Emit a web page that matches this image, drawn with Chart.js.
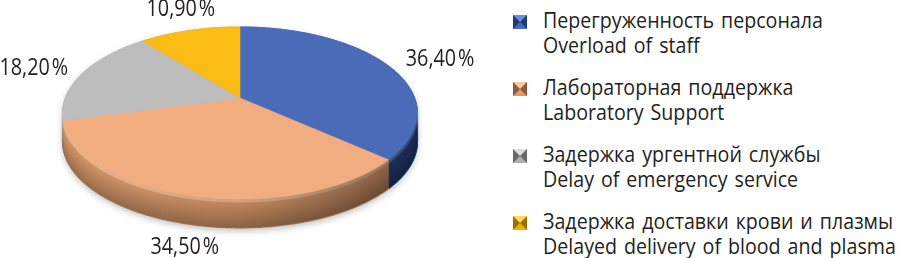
<!DOCTYPE html>
<html><head><meta charset="utf-8">
<script src="https://cdn.jsdelivr.net/npm/chart.js@4"></script>
<style>
html,body{margin:0;padding:0;background:#fff;width:900px;height:258px;overflow:hidden;}
#wrap{position:relative;width:900px;height:258px;}
#pie{position:absolute;left:0;top:0;}
#legend{position:absolute;left:513px;top:8px;font-family:"Open Sans",sans-serif;font-size:21px;line-height:25px;color:#231f20;}
.item{position:relative;height:67px;padding-left:30px;white-space:nowrap;}
.txt{display:inline-block;transform:scaleX(0.935);transform-origin:0 0;word-spacing:2px;}
.ico{position:absolute;left:0;top:7px;width:0;height:0;border-style:solid;border-width:7.5px;}
</style></head>
<body><div id="wrap"><canvas id="pie" width="480" height="258"></canvas><div id="legend"></div></div>
<script>
const categoriesRu = ['Перегруженность персонала','Лабораторная поддержка','Задержка ургентной службы','Задержка доставки крови и плазмы'];
const categoriesEn = ['Overload of staff','Laboratory Support','Delay of emergency service','Delayed delivery of blood and plasma'];
const values = [36.4, 34.5, 18.2, 10.9];
const topColors  = ['#4a6bb8','#f1ad80','#bdbdbd','#fbbd14'];
const wallColors = ['#2c4a90','#dc9c6c','#a4a4a4','#d8a010'];
const iconColors = [['#6d8fd6','#1f3a78','#4a6bb8'],['#f7c9a6','#8a5a3a','#e09a6a'],['#dcdcdc','#6a6a6a','#b0b0b0'],['#ffd85a','#9a7000','#f0b000']];

// legend (HTML text)
const lg = document.getElementById('legend');
categoriesRu.forEach((c,i)=>{
  const d = document.createElement('div'); d.className='item';
  const ic = document.createElement('span'); ic.className='ico';
  const [lt,dk,md] = iconColors[i];
  ic.style.borderColor = lt+' '+dk+' '+md+' '+dk;
  d.appendChild(ic);
  const t = document.createElement('span'); t.className='txt';
  t.appendChild(document.createTextNode(c));
  t.appendChild(document.createElement('br'));
  t.appendChild(document.createTextNode(categoriesEn[i]));
  d.appendChild(t);
  lg.appendChild(d);
});

const K = 0.1744, AX = 1.779, BY = 0.851, DEPTH = 0.29;
function proj(el, phi, rho, dz){
  const u = rho*Math.cos(phi), w = rho*Math.sin(phi);
  const den = 1 - K*w, r = el.outerRadius;
  return [el.x + AX*r*u/den, el.y + BY*r*w/den + dz];
}
function arcPts(el, s, e, dz){
  const n = Math.max(4, Math.ceil((e-s)/0.01)); const pts=[];
  for(let j=0;j<=n;j++){ pts.push(proj(el, s+(e-s)*j/n, 1, dz)); }
  return pts;
}
function shade(hex, f){
  const n=parseInt(hex.slice(1),16); let r=n>>16,g=(n>>8)&255,b=n&255;
  if(f>=0){r+= (255-r)*f; g+=(255-g)*f; b+=(255-b)*f;} else {r*=1+f; g*=1+f; b*=1+f;}
  return 'rgb('+Math.round(r)+','+Math.round(g)+','+Math.round(b)+')';
}
function fmt(v){ return v.toFixed(2).replace('.',',')+'\u200A%'; }

const pie3d = {
  id:'pie3d',
  beforeDatasetsDraw(chart){
    const ctx = chart.ctx; const arcs = chart.getDatasetMeta(0).data;
    const el0 = arcs[0]; const D = DEPTH*el0.outerRadius; const a0 = Math.asin(K);
    const sil = () => {
      ctx.beginPath();
      arcPts(el0, a0, Math.PI-a0, D).forEach((p,j)=> j?ctx.lineTo(p[0],p[1]):ctx.moveTo(p[0],p[1]));
      arcPts(el0, Math.PI-a0, 2*Math.PI+a0, 0).forEach(p=>ctx.lineTo(p[0],p[1]));
      ctx.closePath();
    };
    ctx.save();
    ctx.shadowColor='rgba(0,0,0,0.28)'; ctx.shadowBlur=7; ctx.shadowOffsetY=3;
    sil(); ctx.fillStyle='#999'; ctx.fill();
    ctx.restore();
    // walls as strips
    ctx.save();
    for(let t=D; t>=0; t-=1){
      arcs.forEach((el,i)=>{
        const f = t<2.5 ? 0.25 : -0.3*(t/D);
        ctx.strokeStyle = shade(wallColors[i], f); ctx.lineWidth=2;
        ctx.beginPath();
        arcPts(el, el.startAngle, el.endAngle, t).forEach((p,j)=> j?ctx.lineTo(p[0],p[1]):ctx.moveTo(p[0],p[1]));
        ctx.stroke();
      });
    }
    sil(); ctx.clip();
    const L = proj(el0, Math.PI, 1, 0)[0], R = proj(el0, 0, 1, 0)[0];
    const g = ctx.createLinearGradient(L,0,R,0);
    g.addColorStop(0,'rgba(0,0,0,0)'); g.addColorStop(0.5,'rgba(0,0,0,0.1)'); g.addColorStop(1,'rgba(0,0,0,0.38)');
    ctx.fillStyle=g; ctx.fillRect(0,0,chart.width,chart.height);
    ctx.restore();
    // top faces
    arcs.forEach((el,i)=>{
      ctx.beginPath();
      const c = proj(el, 0, 0, 0); ctx.moveTo(c[0],c[1]);
      arcPts(el, el.startAngle, el.endAngle, 0).forEach(p=>ctx.lineTo(p[0],p[1]));
      ctx.closePath();
      ctx.fillStyle = topColors[i]; ctx.fill();
      ctx.strokeStyle = topColors[i]; ctx.lineWidth=0.6; ctx.stroke();
    });
    // labels
    ctx.save();
    ctx.font='23px "Open Sans", sans-serif'; ctx.fillStyle='#231f20'; ctx.textBaseline='alphabetic';
    arcs.forEach((el,i)=>{
      const m = (el.startAngle+el.endAngle)/2, u=Math.cos(m), w=Math.sin(m);
      const p = proj(el, m, 1.05, w>0?D:0);
      let x, y, align;
      if(u>0.5){ align='left'; x=p[0]+u*12; }
      else if(u<-0.5){ align='right'; x=p[0]+u*7.4; }
      else { align='center'; x=p[0]+u*20; }
      if(w>0.5) y=p[1]+w*7+17;
      else if(w<-0.5) y=p[1]+w*12;
      else y=p[1]+w*8+5;
      ctx.save(); ctx.translate(x,y); ctx.scale(0.86,1); ctx.textAlign=align;
      ctx.fillText(fmt(values[i]),0,0); ctx.restore();
    });
    ctx.restore();
    return false;
  }
};

new Chart(document.getElementById('pie'), {
  type:'pie',
  data:{ labels: categoriesRu, datasets:[{ data: values, backgroundColor: topColors, borderWidth:0 }] },
  options:{ responsive:false, animation:false, events:[],
    layout:{ padding:{ top:0, bottom:62, left:0, right:0 } },
    plugins:{ legend:{display:false}, tooltip:{enabled:false} } },
  plugins:[pie3d]
});
</script></body></html>
